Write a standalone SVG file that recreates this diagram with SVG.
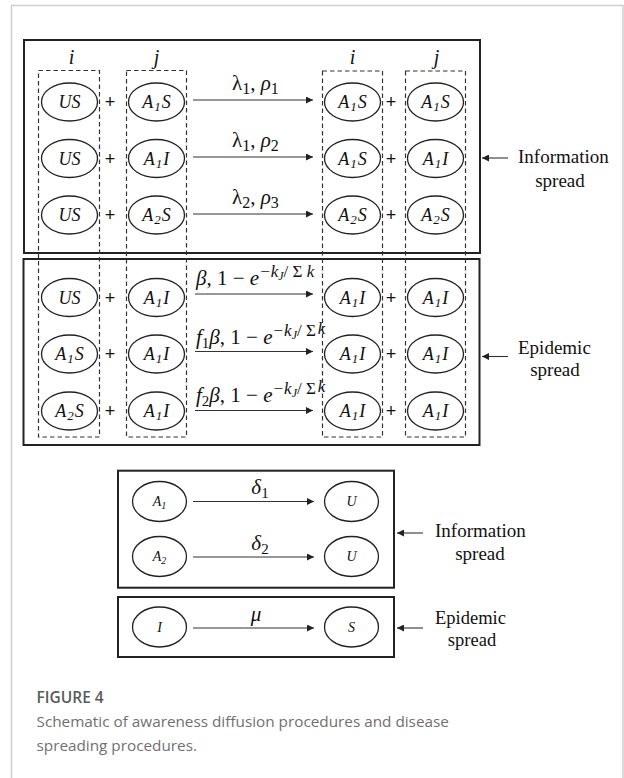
<svg xmlns="http://www.w3.org/2000/svg" width="624" height="778" viewBox="0 0 624 778">
<defs>
<marker id="ah" viewBox="0 0 10 10" refX="10" refY="5" markerWidth="8" markerHeight="7" markerUnits="userSpaceOnUse" orient="auto">
<path d="M0,0 L10,5 L0,10 z" fill="#222"/>
</marker>
<style>
.frame{fill:none;stroke:#cfcfcf;stroke-width:1.5}
.box{fill:none;stroke:#222;stroke-width:2}
.dash{fill:none;stroke:#333;stroke-width:1.2;stroke-dasharray:4.5 3}
.node{fill:#fff;stroke:#222;stroke-width:1.3}
.nt{font-family:"Liberation Serif",serif;font-style:italic;font-size:18px;fill:#111;text-anchor:middle}
.nts{font-family:"Liberation Serif",serif;font-style:italic;font-size:14px;fill:#111;text-anchor:middle}
.arr{stroke:#333;stroke-width:1.1;fill:none;marker-end:url(#ah)}
.lab{font-family:"Liberation Serif",serif;font-size:21px;fill:#111}
.it{font-style:italic}
.sup{font-size:17px}
.plus{font-family:"Liberation Sans",sans-serif;font-size:18px;fill:#111;text-anchor:middle}
.side{font-family:"Liberation Serif",serif;font-size:19px;fill:#111}
.side2{font-family:"Liberation Serif",serif;font-size:18.5px;fill:#111}
.col{font-family:"Liberation Serif",serif;font-style:italic;font-size:20px;fill:#111;text-anchor:middle}
.capt{font-family:"Open Sans",sans-serif;font-size:15.3px;fill:#707070}
.caph{font-family:"Open Sans",sans-serif;font-size:15.5px;font-weight:600;fill:#5a5a5a}
</style>
</defs>
<rect class="frame" x="11.5" y="5.5" width="611.5" height="790"/>

<g id="boxes">
<rect id="box-info" class="box" x="24" y="40" width="456" height="213"/>
<rect id="box-epi" class="box" x="23.5" y="259" width="456" height="186"/>
<rect id="box-info2" class="box" x="118" y="470.7" width="276" height="117"/>
<rect id="box-epi2" class="box" x="118" y="597" width="276" height="60"/>
</g>

<g id="columns">
<rect class="dash" x="38.5" y="70.5" width="61" height="366.5"/>
<rect class="dash" x="126.5" y="70.5" width="60" height="366.5"/>
<rect class="dash" x="322.5" y="71" width="60" height="366"/>
<rect class="dash" x="405.5" y="71" width="60" height="366"/>
<text class="col" x="71.5" y="64">i</text>
<text class="col" x="156.5" y="64">j</text>
<text class="col" x="352.5" y="64">i</text>
<text class="col" x="436.5" y="64">j</text>
</g>

<g id="connectors">
<line class="arr" x1="193" y1="100" x2="313" y2="100"/>
<line class="arr" x1="193" y1="157" x2="313" y2="157"/>
<line class="arr" x1="193" y1="214" x2="313" y2="214"/>
<line class="arr" x1="195" y1="294" x2="313" y2="294"/>
<line class="arr" x1="195" y1="351.5" x2="313" y2="351.5"/>
<line class="arr" x1="195" y1="410.5" x2="313" y2="410.5"/>
<line class="arr" x1="193" y1="501.5" x2="314" y2="501.5"/>
<line class="arr" x1="193" y1="557" x2="314" y2="557"/>
<line class="arr" x1="193" y1="628" x2="314" y2="628"/>
<line class="arr" x1="508" y1="158" x2="482" y2="158"/>
<line class="arr" x1="508" y1="356.5" x2="482" y2="356.5"/>
<line class="arr" x1="423" y1="533" x2="397" y2="533"/>
<line class="arr" x1="423" y1="628" x2="397" y2="628"/>
</g>

<g id="rate-labels">
<text class="lab" x="232" y="90" font-size="23">λ<tspan font-size="16" dy="4">1</tspan><tspan dy="-4">, </tspan><tspan class="it">ρ</tspan><tspan font-size="16" dy="4">1</tspan></text>
<text class="lab" x="232" y="147" font-size="23">λ<tspan font-size="16" dy="4">1</tspan><tspan dy="-4">, </tspan><tspan class="it">ρ</tspan><tspan font-size="16" dy="4">2</tspan></text>
<text class="lab" x="232" y="204" font-size="23">λ<tspan font-size="16" dy="4">2</tspan><tspan dy="-4">, </tspan><tspan class="it">ρ</tspan><tspan font-size="16" dy="4">3</tspan></text>
<text class="lab" x="196" y="285"><tspan class="it">β</tspan>, 1 − <tspan class="it">e</tspan><tspan class="sup" dy="-8" dx="1">−</tspan><tspan class="sup it" dx="1">k</tspan><tspan font-size="12" class="it" dy="3">J</tspan><tspan class="sup" dy="-3">/ Σ </tspan><tspan class="sup it">k</tspan></text>
<text class="lab" x="196" y="344"><tspan class="it">f</tspan><tspan font-size="15" dy="4">1</tspan><tspan class="it" dy="-4">β</tspan>, 1 − <tspan class="it">e</tspan><tspan class="sup" dy="-8" dx="1">−</tspan><tspan class="sup it" dx="1">k</tspan><tspan font-size="12" class="it" dy="3">J</tspan><tspan class="sup" dy="-3">/ Σ</tspan><tspan class="sup it" dx="2" dy="-2">k</tspan></text>
<text class="lab" x="196" y="402"><tspan class="it">f</tspan><tspan font-size="15" dy="4">2</tspan><tspan class="it" dy="-4">β</tspan>, 1 − <tspan class="it">e</tspan><tspan class="sup" dy="-8" dx="1">−</tspan><tspan class="sup it" dx="1">k</tspan><tspan font-size="12" class="it" dy="3">J</tspan><tspan class="sup" dy="-3">/ Σ</tspan><tspan class="sup it" dx="2" dy="-2">k</tspan></text>
<text class="lab it" x="260" y="494" text-anchor="middle">δ<tspan font-size="15" dy="4" font-style="normal">1</tspan></text>
<text class="lab it" x="260" y="550" text-anchor="middle">δ<tspan font-size="15" dy="4" font-style="normal">2</tspan></text>
<text class="lab it" x="256" y="621" text-anchor="middle">μ</text>
</g>

<g id="plus">
<text class="plus" x="110" y="108">+</text>
<text class="plus" x="110" y="164.5">+</text>
<text class="plus" x="110" y="221">+</text>
<text class="plus" x="110" y="303.5">+</text>
<text class="plus" x="110" y="360">+</text>
<text class="plus" x="110" y="417">+</text>
<text class="plus" x="391" y="108">+</text>
<text class="plus" x="391" y="164.5">+</text>
<text class="plus" x="391" y="221">+</text>
<text class="plus" x="391" y="303.5">+</text>
<text class="plus" x="391" y="360">+</text>
<text class="plus" x="391" y="417">+</text>
</g>

<g id="n-r1-i"><ellipse class="node" cx="69.5" cy="102" rx="28" ry="19"/><text class="nt" x="69.5" y="108">US</text></g>
<g id="n-r1-j"><ellipse class="node" cx="156.5" cy="102" rx="28" ry="19"/><text class="nt" x="156.5" y="108">A<tspan font-size="13" dx="1" dy="3">1</tspan><tspan dx="1" dy="-3">S</tspan></text></g>
<g id="n-r1-i2"><ellipse class="node" cx="352.5" cy="102" rx="28" ry="19"/><text class="nt" x="352.5" y="108">A<tspan font-size="13" dx="1" dy="3">1</tspan><tspan dx="1" dy="-3">S</tspan></text></g>
<g id="n-r1-j2"><ellipse class="node" cx="435.5" cy="102" rx="28" ry="19"/><text class="nt" x="435.5" y="108">A<tspan font-size="13" dx="1" dy="3">1</tspan><tspan dx="1" dy="-3">S</tspan></text></g>

<g id="n-r2-i"><ellipse class="node" cx="69.5" cy="158.5" rx="28" ry="19"/><text class="nt" x="69.5" y="164.5">US</text></g>
<g id="n-r2-j"><ellipse class="node" cx="156.5" cy="158.5" rx="28" ry="19"/><text class="nt" x="156.5" y="164.5">A<tspan font-size="13" dx="1" dy="3">1</tspan><tspan dx="1" dy="-3">I</tspan></text></g>
<g id="n-r2-i2"><ellipse class="node" cx="352.5" cy="158.5" rx="28" ry="19"/><text class="nt" x="352.5" y="164.5">A<tspan font-size="13" dx="1" dy="3">1</tspan><tspan dx="1" dy="-3">S</tspan></text></g>
<g id="n-r2-j2"><ellipse class="node" cx="435.5" cy="158.5" rx="28" ry="19"/><text class="nt" x="435.5" y="164.5">A<tspan font-size="13" dx="1" dy="3">1</tspan><tspan dx="1" dy="-3">I</tspan></text></g>

<g id="n-r3-i"><ellipse class="node" cx="69.5" cy="215" rx="28" ry="19"/><text class="nt" x="69.5" y="221">US</text></g>
<g id="n-r3-j"><ellipse class="node" cx="156.5" cy="215" rx="28" ry="19"/><text class="nt" x="156.5" y="221">A<tspan font-size="13" dx="1" dy="3">2</tspan><tspan dx="1" dy="-3">S</tspan></text></g>
<g id="n-r3-i2"><ellipse class="node" cx="352.5" cy="215" rx="28" ry="19"/><text class="nt" x="352.5" y="221">A<tspan font-size="13" dx="1" dy="3">2</tspan><tspan dx="1" dy="-3">S</tspan></text></g>
<g id="n-r3-j2"><ellipse class="node" cx="435.5" cy="215" rx="28" ry="19"/><text class="nt" x="435.5" y="221">A<tspan font-size="13" dx="1" dy="3">2</tspan><tspan dx="1" dy="-3">S</tspan></text></g>

<g id="n-e1-i"><ellipse class="node" cx="69.5" cy="297.5" rx="28" ry="19"/><text class="nt" x="69.5" y="303.5">US</text></g>
<g id="n-e1-j"><ellipse class="node" cx="156.5" cy="297.5" rx="28" ry="19"/><text class="nt" x="156.5" y="303.5">A<tspan font-size="13" dx="1" dy="3">1</tspan><tspan dx="1" dy="-3">I</tspan></text></g>
<g id="n-e1-i2"><ellipse class="node" cx="352.5" cy="297.5" rx="28" ry="19"/><text class="nt" x="352.5" y="303.5">A<tspan font-size="13" dx="1" dy="3">1</tspan><tspan dx="1" dy="-3">I</tspan></text></g>
<g id="n-e1-j2"><ellipse class="node" cx="435.5" cy="297.5" rx="28" ry="19"/><text class="nt" x="435.5" y="303.5">A<tspan font-size="13" dx="1" dy="3">1</tspan><tspan dx="1" dy="-3">I</tspan></text></g>

<g id="n-e2-i"><ellipse class="node" cx="69.5" cy="354" rx="28" ry="19"/><text class="nt" x="69.5" y="360">A<tspan font-size="13" dx="1" dy="3">1</tspan><tspan dx="1" dy="-3">S</tspan></text></g>
<g id="n-e2-j"><ellipse class="node" cx="156.5" cy="354" rx="28" ry="19"/><text class="nt" x="156.5" y="360">A<tspan font-size="13" dx="1" dy="3">1</tspan><tspan dx="1" dy="-3">I</tspan></text></g>
<g id="n-e2-i2"><ellipse class="node" cx="352.5" cy="354" rx="28" ry="19"/><text class="nt" x="352.5" y="360">A<tspan font-size="13" dx="1" dy="3">1</tspan><tspan dx="1" dy="-3">I</tspan></text></g>
<g id="n-e2-j2"><ellipse class="node" cx="435.5" cy="354" rx="28" ry="19"/><text class="nt" x="435.5" y="360">A<tspan font-size="13" dx="1" dy="3">1</tspan><tspan dx="1" dy="-3">I</tspan></text></g>

<g id="n-e3-i"><ellipse class="node" cx="69.5" cy="411" rx="28" ry="19"/><text class="nt" x="69.5" y="417">A<tspan font-size="13" dx="1" dy="3">2</tspan><tspan dx="1" dy="-3">S</tspan></text></g>
<g id="n-e3-j"><ellipse class="node" cx="156.5" cy="411" rx="28" ry="19"/><text class="nt" x="156.5" y="417">A<tspan font-size="13" dx="1" dy="3">1</tspan><tspan dx="1" dy="-3">I</tspan></text></g>
<g id="n-e3-i2"><ellipse class="node" cx="352.5" cy="411" rx="28" ry="19"/><text class="nt" x="352.5" y="417">A<tspan font-size="13" dx="1" dy="3">1</tspan><tspan dx="1" dy="-3">I</tspan></text></g>
<g id="n-e3-j2"><ellipse class="node" cx="435.5" cy="411" rx="28" ry="19"/><text class="nt" x="435.5" y="417">A<tspan font-size="13" dx="1" dy="3">1</tspan><tspan dx="1" dy="-3">I</tspan></text></g>

<g id="n-A1"><ellipse class="node" cx="159.5" cy="501.5" rx="27" ry="20"/><text class="nts" x="159.5" y="506">A<tspan font-size="10" dy="3">1</tspan></text></g>
<g id="n-U1"><ellipse class="node" cx="351.5" cy="501.5" rx="27" ry="20"/><text class="nts" x="351.5" y="506">U</text></g>
<g id="n-A2"><ellipse class="node" cx="159.5" cy="556.5" rx="27" ry="20"/><text class="nts" x="159.5" y="561">A<tspan font-size="10" dy="3">2</tspan></text></g>
<g id="n-U2"><ellipse class="node" cx="351.5" cy="556.5" rx="27" ry="20"/><text class="nts" x="351.5" y="561">U</text></g>
<g id="n-I"><ellipse class="node" cx="159.5" cy="627" rx="27" ry="20"/><text class="nts" x="159.5" y="632">I</text></g>
<g id="n-S"><ellipse class="node" cx="351.5" cy="627" rx="27" ry="20"/><text class="nts" x="351.5" y="632">S</text></g>

<g id="side-labels">
<text class="side" x="518" y="163">Information</text>
<text class="side" x="560" y="187" text-anchor="middle">spread</text>
<text class="side" x="518" y="354">Epidemic</text>
<text class="side" x="555" y="376" text-anchor="middle">spread</text>
<text class="side" x="435" y="537">Information</text>
<text class="side" x="480" y="560" text-anchor="middle">spread</text>
<text class="side2" x="435" y="624">Epidemic</text>
<text class="side2" x="472" y="646" text-anchor="middle">spread</text>
</g>

<g id="caption">
<text class="caph" x="36.5" y="702.5">FIGURE 4</text>
<text class="capt" x="36.5" y="726.5">Schematic of awareness diffusion procedures and disease</text>
<text class="capt" x="36.5" y="750.5">spreading procedures.</text>
</g>
</svg>
